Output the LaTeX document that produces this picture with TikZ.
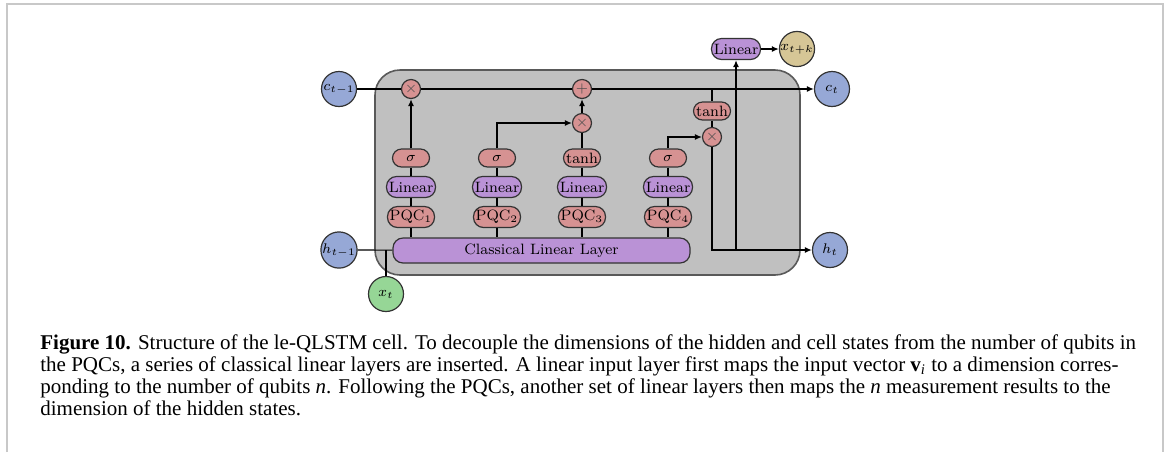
\documentclass[tikz,border=0pt]{standalone}
\usepackage{fontspec}
\newfontfamily\capfont{Liberation Serif}
\usetikzlibrary{arrows.meta}
\definecolor{cblue}{RGB}{150,168,214}
\definecolor{cgreen}{RGB}{150,214,150}
\definecolor{ctan}{RGB}{214,198,150}
\definecolor{cred}{RGB}{214,146,146}
\definecolor{cpurple}{RGB}{186,146,214}
\definecolor{cbox}{RGB}{192,192,192}
\definecolor{cframe}{RGB}{200,200,200}
\tikzset{
  state/.style={circle, draw=black!80, fill=cblue, line width=0.6pt, minimum size=17.5pt, inner sep=0pt},
  gate/.style={circle, draw=black!80, fill=cred, line width=0.6pt, minimum size=9.5pt, inner sep=0pt, text=black!70},
  act/.style={draw=black!80, fill=cred, line width=0.6pt, rounded corners=4.5pt, minimum width=18.5pt, minimum height=9pt, inner sep=0pt},
  lin/.style={draw=black!80, fill=cpurple, line width=0.6pt, rounded corners=5pt, minimum width=24.5pt, minimum height=10.5pt, inner sep=0pt},
  pqc/.style={act, rounded corners=5pt, minimum width=23.5pt, minimum height=10.5pt},
  mainline/.style={line width=1.2pt},
  thinline/.style={line width=0.6pt},
  midline/.style={line width=0.9pt},
  arr/.style={-{Latex[length=3.5pt,width=3pt]}}
}
\begin{document}
\begin{tikzpicture}[x=0.5pt, y=-0.5pt, font=\fontsize{7.5}{9}\selectfont]
\useasboundingbox (0,0) rectangle (1170,452);
% frame
\draw[cframe, line width=1pt] (7,452) -- (7,4) -- (1163,4) -- (1163,452);
% cell box
\draw[fill=cbox, draw=black!65, line width=0.8pt, rounded corners=12.5pt] (375,70) rectangle (800,275);
% states
\node[state] (cprev) at (339,89) {$c_{t-1}$};
\node[state] (ct) at (832,89) {$c_t$};
\node[state] (hprev) at (339,250) {$h_{t-1}$};
\node[state] (ht) at (830,250) {$h_t$};
\node[state, fill=cgreen] (xt) at (386,294) {$x_t$};
\node[state, fill=ctan] (xtk) at (797,49) {$x_{t+k}$};
\node[lin] (linT) at (736,49) {Linear};
% gates
\node[gate] (mul1) at (411,89) {$\times$};
\node[gate] (plus) at (582,89) {$+$};
\node[gate] (mul2) at (582,123) {$\times$};
\node[gate] (mul3) at (712,137) {$\times$};
\node[act] (tanhR) at (712,111) {$\tanh$};
% columns
\node[act] (a1) at (411,158) {$\sigma$};
\node[act] (a2) at (497,158) {$\sigma$};
\node[act] (a3) at (582,158) {$\tanh$};
\node[act] (a4) at (668,158) {$\sigma$};
\node[lin] (l1) at (411,187) {Linear};
\node[lin] (l2) at (497,187) {Linear};
\node[lin] (l3) at (582,187) {Linear};
\node[lin] (l4) at (668,187) {Linear};
\node[pqc] (p1) at (411,217) {PQC$_1$};
\node[pqc] (p2) at (497,217) {PQC$_2$};
\node[pqc] (p3) at (582,217) {PQC$_3$};
\node[pqc] (p4) at (668,217) {PQC$_4$};
\node[lin, minimum width=148.5pt, minimum height=12.5pt, rounded corners=5pt] (cll) at (541.5,250.5) {Classical Linear Layer};
% coordinates
\coordinate (tj) at (tanhR |- plus);
\coordinate (hj) at (linT |- ht);
\coordinate (xj) at (xt |- hprev);
\coordinate (c1) at (p1 |- cll.north);
\coordinate (c2) at (p2 |- cll.north);
\coordinate (c3) at (p3 |- cll.north);
\coordinate (c4) at (p4 |- cll.north);
% connectors
\draw[mainline] (cprev) -- (mul1);
\draw[mainline] (mul1) -- (plus);
\draw[mainline, arr] (plus) -- (ct);
\draw[mainline] (tj) -- (tanhR);
\draw[mainline] (tanhR) -- (mul3);
\draw[mainline, arr] (mul3) |- (ht);
\draw[mainline, arr] (hj) -- (linT);
\draw[mainline, arr] (linT) -- (xtk);
\draw[thinline, arr] (a4) |- (mul3);
\draw[thinline, arr] (a2) |- (mul2);
\draw[mainline, arr] (a1) -- (mul1);
\draw[mainline] (a3) -- (mul2);
\draw[mainline, arr] (mul2) -- (plus);
\foreach \i in {1,2,3,4}{
  \draw[midline] (a\i) -- (l\i);
  \draw[thinline] (l\i) -- (p\i);
  \draw[thinline] (p\i) -- (c\i);
}
\draw[thinline] (hprev) -- (cll);
\draw[mainline] (xt) -- (xj);
% caption
\node[anchor=base west, inner sep=0pt, align=left, font=\capfont\fontsize{10.5}{11}\selectfont] (cap) at (40,415)
{\textbf{Figure 10.} Structure of the le-QLSTM cell. To decouple the dimensions of the hidden and cell states from the number of qubits in\\
the PQCs, a series of classical linear layers are inserted. A linear input layer first maps the input vector \textbf{v}\textsubscript{\textit{i}} to a dimension corres-\\
ponding to the number of qubits \textit{n}. Following the PQCs, another set of linear layers then maps the \textit{n} measurement results to the\\
dimension of the hidden states.};
\end{tikzpicture}
\end{document}
